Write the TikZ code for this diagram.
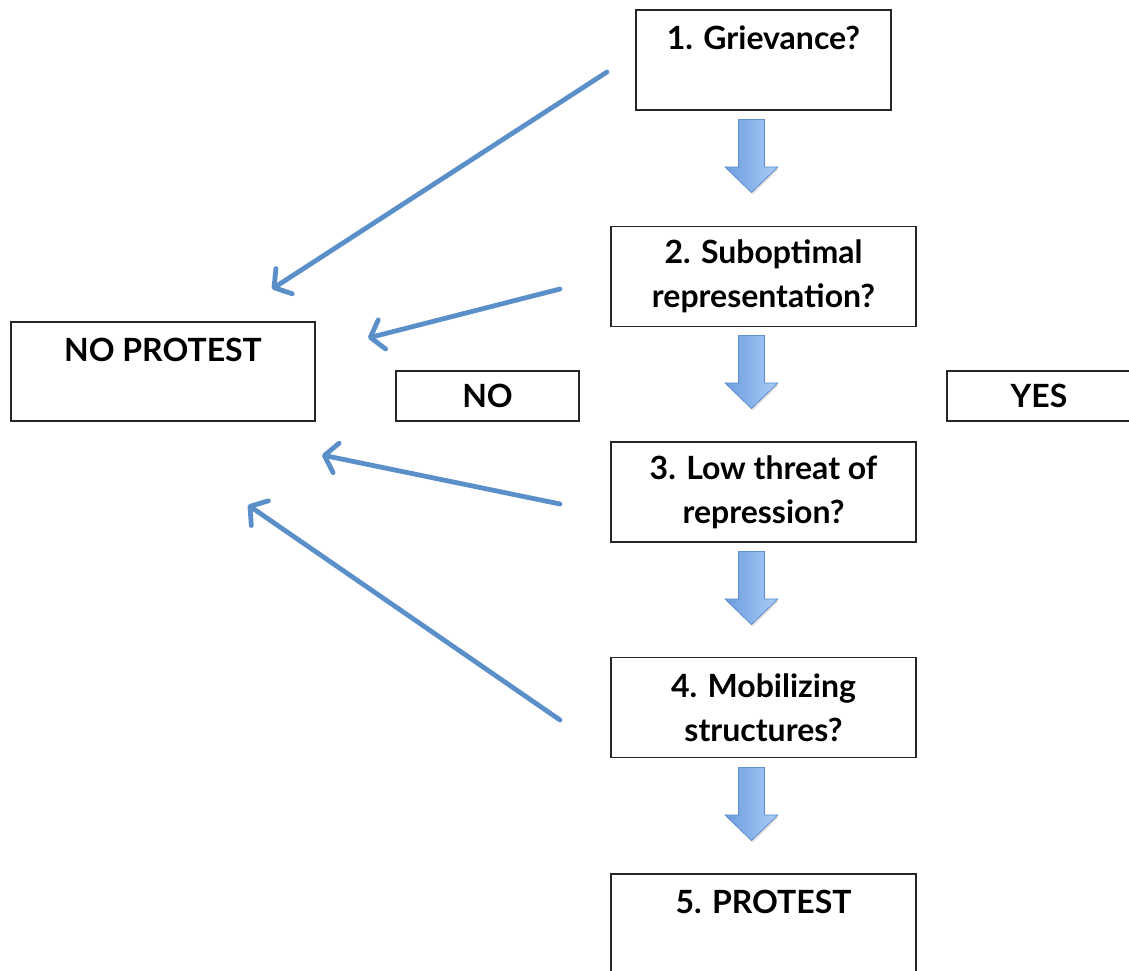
\documentclass[tikz,border=0pt]{standalone}
\usepackage{fontspec}
\setmainfont{Lato}
\usetikzlibrary{arrows.meta,positioning,calc,shapes.arrows,shadows}
\definecolor{lineblue}{HTML}{5B8FC9}
\definecolor{arrdark}{HTML}{6A9DDF}
\definecolor{arrlight}{HTML}{ABCDF7}
\definecolor{arredge}{HTML}{6190CF}
\tikzset{
  >={Straight Barb[length=12pt,width=30pt,round]},
  stepbox/.style={draw=black!85,line width=1.1pt,fill=white,align=center,inner sep=0pt,
    minimum width=305pt,minimum height=100pt,font=\fontsize{32}{44}\selectfont\bfseries},
  sidebox/.style={stepbox,minimum width=183pt,minimum height=50pt},
  downarr/.style={single arrow,rotate=-90,draw=arredge,line width=0.8pt,
    inner sep=12.5pt,minimum height=73pt,single arrow head extend=13.5pt,single arrow tip angle=92,
    left color=arrdark,right color=arrlight,
    drop shadow={opacity=0.25,shadow xshift=1pt,shadow yshift=-2pt}},
  noarr/.style={->,draw=lineblue,line width=4.8pt,line cap=round},
}
\begin{document}
\begin{tikzpicture}[x=1pt,y=-1pt]
\useasboundingbox (0,0) rectangle (1129,971);
% main chain
\node[stepbox,minimum width=255pt] (griev) at (763.5,60) {1. Grievance?\\\mbox{}};
\node[stepbox] (subopt) at (763.5,276.5) {2. Suboptimal\\representation?};
\node[stepbox] (threat) at (763.5,492) {3. Low threat of\\repression?};
\node[stepbox] (mobil) at (763.5,707.5) {4. Mobilizing\\structures?};
\node[stepbox] (protest) at (763.5,924) {5. PROTEST\\\mbox{}};
% outcome and legend boxes
\node[stepbox,minimum width=304pt,minimum height=99pt] (noprot) at (163,371.5) {NO PROTEST\\\mbox{}};
\node[sidebox] (no) at (487.5,396) {NO};
\node[sidebox,minimum width=184pt] (yes) at (1039,396) {YES};
% yes arrows
\node[downarr,anchor=tip] (d1) at (751.5,193) {};
\node[downarr,anchor=tip] (d2) at (751.5,409) {};
\node[downarr,anchor=tip] (d3) at (751.5,625) {};
\node[downarr,anchor=tip] (d4) at (751.5,841) {};
% no arrows
\coordinate (g-out) at (607,72);
\coordinate (s-out) at (560,289);
\coordinate (t-out) at (560,504);
\coordinate (m-out) at (560,720);
\coordinate (np-1) at (272,289);
\coordinate (np-2) at (368,338);
\coordinate (np-3) at (322,455);
\coordinate (np-4) at (248,505);
\draw[noarr] (g-out) -- (np-1);
\draw[noarr] (s-out) -- (np-2);
\draw[noarr] (t-out) -- (np-3);
\draw[noarr] (m-out) -- (np-4);
\end{tikzpicture}
\end{document}
